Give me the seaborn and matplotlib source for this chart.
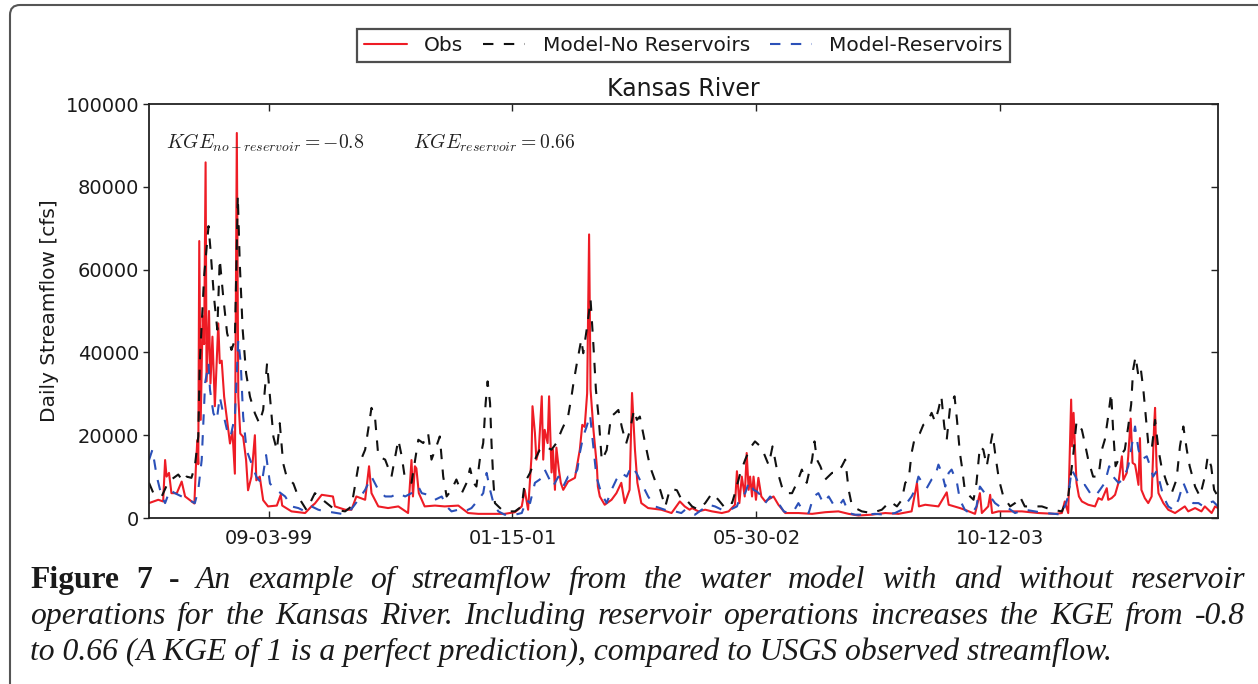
import numpy as np
import pandas as pd
import matplotlib
matplotlib.use("Agg")
import matplotlib.pyplot as plt
import seaborn as sns
from matplotlib.patches import FancyBboxPatch
from matplotlib.transforms import IdentityTransform
from matplotlib.ticker import FuncFormatter

# ---------------- data (days since 1999-01-01, daily streamflow in cfs) ----------------
START = "1999-01-01"
END = "2004-12-31"
tick_labels = ["09-03-99", "01-15-01", "05-30-02", "10-12-03"]
y_ticks = [0, 20000, 40000, 60000, 80000, 100000]
series_names = ["Obs", "Model-No Reservoirs", "Model-Reservoirs"]

obs_day = [0, 19, 29, 33, 36, 41, 46, 57, 67, 74,
           93, 96, 99, 101, 103, 106, 110, 113, 116, 118,
           123, 126, 130, 135, 142, 145, 149, 154, 160, 166,
           171, 176, 180, 183, 187, 193, 199, 203, 210, 217,
           220, 227, 234, 244, 262, 270, 273, 292, 320, 333,
           340, 354, 377, 381, 402, 415, 425, 443, 451, 456,
           470, 490, 511, 531, 538, 541, 545, 548, 553, 565,
           586, 606, 634, 654, 675, 702, 729, 750, 764, 770,
           777, 784, 786, 791, 794, 799, 805, 808, 811, 817,
           820, 825, 828, 832, 835, 840, 844, 849, 859, 873,
           883, 888, 893, 898, 902, 905, 911, 918, 920, 924,
           934, 948, 958, 968, 975, 985, 990, 996, 1001, 1009,
           1023, 1050, 1071, 1088, 1098, 1108, 1113, 1126, 1140, 1154,
           1174, 1188, 1201, 1205, 1210, 1215, 1221, 1225, 1229, 1232,
           1236, 1239, 1244, 1249, 1255, 1263, 1280, 1290, 1304, 1331,
           1359, 1386, 1413, 1434, 1454, 1481, 1509, 1536, 1563, 1574,
           1578, 1591, 1618, 1635, 1639, 1662, 1672, 1693, 1703, 1707,
           1720, 1724, 1728, 1741, 1789, 1823, 1857, 1871, 1877, 1884,
           1890, 1892, 1895, 1898, 1901, 1906, 1912, 1925, 1939, 1946,
           1953, 1963, 1966, 1973, 1980, 1987, 1994, 1997, 2004, 2007,
           2012, 2016, 2021, 2024, 2028, 2031, 2034, 2041, 2048, 2055,
           2060, 2062, 2065, 2069, 2079, 2089, 2103, 2123, 2130, 2144,
           2157, 2164, 2178, 2185, 2191]
obs_cfs = [3600, 4400, 4000, 14000, 10000, 10900, 6000, 6000, 8800, 5200,
           3500, 12000, 18800, 13000, 66900, 23700, 48700, 42000, 85900, 33000,
           50000, 32500, 43800, 27000, 47000, 37400, 38000, 29300, 23700, 18000,
           21000, 10700, 93000, 29300, 20400, 19600, 14000, 6700, 10000, 20000,
           9100, 10000, 4300, 2800, 3000, 5600, 3000, 1600, 1200, 2800,
           3500, 5600, 5200, 2800, 2000, 2000, 5200, 4400, 12500, 6000,
           2800, 2400, 2800, 1200, 14000, 5200, 12500, 12000, 6000, 2800,
           3000, 2800, 3000, 1200, 1000, 1000, 1000, 1400, 2800, 6800,
           2000, 14900, 27000, 20500, 14100, 16500, 29400, 14100, 21300, 18100,
           29400, 11000, 16500, 6800, 17000, 11700, 8500, 6800, 8800, 9700,
           16500, 22500, 22000, 30100, 68500, 31000, 21200, 12400, 7600, 5200,
           3200, 4400, 6000, 8500, 3600, 6800, 30200, 16500, 8500, 3600,
           2400, 2000, 1200, 4000, 2800, 2000, 2400, 1600, 2000, 1600,
           1200, 1600, 3200, 11300, 3600, 10000, 5200, 15700, 6800, 10000,
           5200, 10000, 4400, 9700, 5200, 4000, 5200, 3200, 1200, 1200,
           1000, 1400, 1600, 1000, 600, 800, 1200, 1000, 1600, 8500,
           2800, 3200, 2800, 6200, 3200, 2400, 2000, 1000, 6000, 1200,
           2800, 5600, 1200, 1600, 1600, 1200, 1000, 1200, 4000, 1200,
           28600, 17300, 25400, 16500, 8500, 5200, 4000, 3200, 2800, 4800,
           4400, 7200, 4400, 4800, 5600, 8500, 14900, 9200, 10900, 14900,
           24000, 13300, 12900, 10900, 8000, 19300, 6800, 4800, 3600, 5200,
           22100, 26600, 12500, 6000, 3600, 2000, 1200, 2800, 1600, 2400,
           1600, 2800, 1200, 2800, 2400]

nores_day = [0, 9, 26, 40, 60, 70, 77, 87, 94, 101,
             104, 113, 122, 126, 133, 140, 145, 152, 160, 169,
             176, 182, 186, 192, 199, 207, 217, 226, 234, 242,
             249, 255, 262, 268, 275, 282, 296, 306, 323, 340,
             360, 381, 402, 415, 429, 443, 456, 463, 470, 484,
             497, 511, 518, 524, 538, 552, 562, 572, 579, 589,
             596, 603, 610, 620, 630, 641, 651, 658, 665, 671,
             678, 685, 690, 694, 699, 702, 706, 709, 723, 736,
             750, 764, 770, 781, 791, 801, 811, 825, 835, 846,
             859, 866, 870, 877, 886, 890, 899, 905, 911, 916,
             922, 928, 938, 947, 955, 962, 969, 978, 986, 994,
             1000, 1006, 1017, 1027, 1037, 1048, 1058, 1068, 1082, 1092,
             1102, 1113, 1126, 1140, 1154, 1167, 1178, 1184, 1195, 1201,
             1212, 1222, 1232, 1242, 1253, 1260, 1270, 1278, 1287, 1297,
             1304, 1318, 1328, 1338, 1348, 1359, 1364, 1369, 1376, 1386,
             1400, 1410, 1420, 1427, 1434, 1441, 1461, 1481, 1502, 1519,
             1533, 1543, 1550, 1557, 1563, 1570, 1580, 1587, 1596, 1604,
             1611, 1618, 1624, 1630, 1635, 1642, 1651, 1656, 1662, 1666,
             1672, 1683, 1690, 1696, 1703, 1710, 1717, 1724, 1729, 1735,
             1742, 1751, 1765, 1775, 1785, 1795, 1809, 1830, 1850, 1871,
             1884, 1894, 1901, 1912, 1918, 1925, 1935, 1946, 1953, 1959,
             1966, 1972, 1976, 1981, 1990, 2000, 2007, 2013, 2017, 2022,
             2028, 2033, 2038, 2043, 2048, 2055, 2062, 2069, 2075, 2086,
             2096, 2106, 2113, 2120, 2127, 2133, 2144, 2154, 2164, 2170,
             2177, 2183, 2191]
nores_cfs = [8500, 6000, 5200, 8800, 10500, 8800, 10000, 9700, 12500, 19700,
             37400, 58400, 70500, 64900, 53600, 45500, 62500, 53600, 44700, 40600,
             43000, 77800, 61600, 45500, 35000, 29300, 25300, 22900, 26100, 37400,
             27700, 19600, 16400, 22900, 13200, 10000, 8300, 5100, 1900, 6000,
             4000, 2000, 1600, 2800, 12500, 16500, 26600, 24600, 14900, 14100,
             10000, 18900, 14900, 10000, 8500, 18900, 18100, 20500, 14100, 17300,
             19700, 10000, 5200, 6800, 9300, 6000, 8500, 12000, 8500, 7600,
             14100, 18100, 27800, 33000, 27800, 18100, 8500, 3600, 2000, 1600,
             1600, 2800, 8500, 10900, 14100, 16500, 17300, 16500, 18100, 21300,
             24600, 29400, 32600, 37400, 43100, 39800, 47100, 52800, 41500, 31000,
             23700, 13900, 16400, 24500, 25300, 26100, 22000, 18000, 21300, 26100,
             23700, 24500, 18000, 12400, 9100, 6700, 2700, 7100, 6700, 4300,
             4300, 2800, 2000, 3600, 6000, 4400, 2800, 4000, 3600, 6000,
             10900, 14100, 16900, 18500, 17300, 15700, 12800, 17300, 11700, 7600,
             6000, 6000, 8500, 11700, 8500, 14100, 18500, 14100, 12500, 9300,
             10900, 10900, 12500, 14100, 6800, 2800, 1600, 1200, 2000, 4000,
             2800, 4400, 8500, 9300, 15700, 19700, 20500, 22500, 23300, 25400,
             23300, 26200, 29400, 22100, 18900, 27000, 29400, 23700, 15700, 12500,
             6800, 5200, 4400, 8500, 17300, 16500, 12500, 17300, 20500, 14900,
             9300, 5200, 2800, 3600, 5200, 2800, 2800, 2800, 2000, 1600,
             5200, 14900, 23300, 21300, 18100, 14100, 10000, 10000, 16500, 18900,
             24600, 30200, 21300, 12500, 14900, 16500, 22100, 27400, 35800, 39000,
             34200, 35800, 31000, 24600, 18100, 16500, 23700, 16500, 12500, 8500,
             6000, 9300, 17300, 22100, 16500, 12500, 7600, 5200, 10000, 14900,
             12500, 6800, 5200]

res_day = [0, 7, 16, 26, 33, 43, 53, 67, 81, 94,
           101, 108, 115, 122, 125, 132, 139, 145, 152, 160,
           167, 176, 183, 188, 193, 200, 210, 220, 231, 240,
           248, 262, 279, 292, 306, 320, 333, 347, 360, 374,
           395, 408, 419, 429, 443, 456, 470, 484, 497, 511,
           525, 538, 552, 559, 572, 586, 600, 610, 620, 634,
           647, 661, 675, 685, 692, 699, 706, 716, 729, 750,
           764, 774, 781, 791, 801, 811, 818, 828, 839, 849,
           859, 869, 878, 883, 890, 897, 904, 910, 917, 927,
           938, 948, 958, 968, 979, 989, 999, 1009, 1023, 1037,
           1057, 1078, 1091, 1099, 1119, 1133, 1147, 1160, 1174, 1191,
           1205, 1212, 1222, 1230, 1239, 1246, 1256, 1263, 1273, 1280,
           1290, 1301, 1311, 1321, 1331, 1341, 1352, 1362, 1372, 1382,
           1393, 1403, 1413, 1423, 1434, 1447, 1468, 1488, 1509, 1529,
           1543, 1553, 1563, 1570, 1577, 1585, 1594, 1604, 1611, 1618,
           1625, 1632, 1639, 1645, 1656, 1662, 1672, 1686, 1696, 1703,
           1713, 1724, 1734, 1748, 1761, 1775, 1795, 1816, 1836, 1857,
           1871, 1884, 1891, 1899, 1908, 1918, 1929, 1939, 1949, 1959,
           1968, 1976, 1987, 1997, 2007, 2014, 2021, 2028, 2034, 2045,
           2052, 2058, 2065, 2072, 2079, 2089, 2099, 2110, 2120, 2130,
           2140, 2151, 2161, 2171, 2181, 2191]
res_cfs = [14000, 16500, 10000, 5200, 3600, 6800, 6000, 5200, 4400, 3600,
           6800, 14000, 32600, 37400, 31000, 25300, 23700, 29300, 25300, 21200,
           19600, 24500, 43000, 37400, 24500, 16400, 13200, 10000, 8300, 15200,
           8300, 6700, 5200, 2800, 2400, 1600, 2800, 2000, 1600, 1400,
           1000, 1200, 2800, 4400, 6800, 10000, 6800, 5200, 5200, 6000,
           5200, 6000, 7600, 6000, 5600, 4400, 5200, 2800, 1600, 2000,
           1600, 2400, 4400, 6000, 10900, 6800, 3600, 1600, 800, 800,
           1200, 4400, 3600, 8500, 9300, 11700, 10000, 7600, 10000, 7600,
           10000, 9700, 11700, 15700, 19700, 22100, 24900, 18100, 10000, 6000,
           3600, 6800, 9300, 10900, 10000, 12500, 10900, 8500, 5200, 2800,
           2000, 1600, 1200, 2000, 800, 2000, 3200, 2800, 2000, 2000,
           2800, 5200, 6000, 8800, 6800, 6400, 5200, 3600, 5200, 4400,
           3600, 1600, 1200, 1600, 3600, 1600, 1200, 5200, 6000, 3600,
           5200, 3200, 2800, 4400, 1200, 800, 800, 1000, 800, 1200,
           2000, 3600, 5200, 6800, 10000, 8500, 7200, 9300, 10000, 12900,
           10900, 7600, 10900, 11700, 8500, 4400, 2000, 800, 2800, 7600,
           6000, 5200, 3600, 2400, 2400, 1200, 2000, 1600, 1200, 1000,
           800, 5200, 11700, 10000, 7600, 8000, 6000, 5200, 6800, 8500,
           12500, 10000, 8500, 9300, 12500, 17300, 22100, 16500, 14100, 14900,
           12500, 10000, 11300, 8500, 5200, 2800, 2000, 4400, 8500, 5600,
           3600, 3600, 2800, 3600, 4000, 2800]

kge_labels = [r"$KGE_{no-reservoir}=-0.8$", r"$KGE_{reservoir}=0.66$"]

caption_line1_bold = "Figure 7 -"
caption_line1 = "An example of streamflow from the water model with and without reservoir"
caption_line2 = "operations for the Kansas River. Including reservoir operations increases the KGE from -0.8"
caption_line3 = "to 0.66 (A KGE of 1 is a perfect prediction), compared to USGS observed streamflow."

for d, v in [(obs_day, obs_cfs), (nores_day, nores_cfs), (res_day, res_cfs)]:
    assert len(d) == len(v), (len(d), len(v))

# ---------------- styling ----------------
sns.set_theme(style="white")
plt.rcParams["font.family"] = ["DejaVu Sans"]
plt.rcParams["mathtext.fontset"] = "cm"
plt.rcParams["axes.edgecolor"] = "#222222"

W, H = 1258, 684
fig = plt.figure(figsize=(W / 100, H / 100), dpi=100)
fig.patch.set_facecolor("white")
ax = fig.add_axes([149 / W, 1 - 518 / H, (1218 - 149) / W, (518 - 104) / H])


def make_df(days, vals, name):
    return pd.DataFrame({
        "date": pd.Timestamp(START) + pd.to_timedelta(days, unit="D"),
        "cfs": vals,
        "series": name,
    })


df_obs = make_df(obs_day, obs_cfs, series_names[0])
df_nores = make_df(nores_day, nores_cfs, series_names[1])
df_res = make_df(res_day, res_cfs, series_names[2])

sns.lineplot(data=df_obs, x="date", y="cfs", ax=ax, color="#ee1c25", lw=1.5,
             label=series_names[0], errorbar=None)
sns.lineplot(data=df_nores, x="date", y="cfs", ax=ax, color="#111111", lw=1.5,
             linestyle=(0, (5, 5)), label=series_names[1], errorbar=None)
sns.lineplot(data=df_res, x="date", y="cfs", ax=ax, color="#2b50b8", lw=1.5,
             linestyle=(0, (5, 5)), label=series_names[2], errorbar=None)

ax.set_xlim(pd.Timestamp(START), pd.Timestamp(END))
ax.set_ylim(0, 100000)
ax.set_yticks(y_ticks)
ax.yaxis.set_major_formatter(FuncFormatter(lambda v, p: f"{int(v)}"))
xt = pd.to_datetime(tick_labels, format="%m-%d-%y")
ax.set_xticks(xt)
ax.set_xticklabels(tick_labels)

for s in ax.spines.values():
    s.set_visible(True)
    s.set_linewidth(1.3)
    s.set_color("#222222")

ax.tick_params(axis="x", which="major", direction="in", top=True, bottom=True,
               length=5, width=1, labelsize=14, pad=8, colors="#222222", labelcolor="#1a1a1a")
ax.tick_params(axis="y", which="major", direction="out", left=True, right=False,
               length=4, width=1, labelsize=14, pad=3, colors="#222222", labelcolor="#1a1a1a")
# right-side inward ticks via a twin axis sharing y
axr = ax.twinx()
axr.set_ylim(ax.get_ylim())
axr.set_yticks(y_ticks)
axr.tick_params(axis="y", direction="in", length=5, width=1, labelright=False, right=True,
                colors="#222222")
axr.grid(False)
for s in axr.spines.values():
    s.set_visible(False)

ax.set_xlabel("")
ax.set_ylabel("Daily Streamflow [cfs]", fontsize=14.5, labelpad=5, color="#1a1a1a")
ax.set_title("Kansas River", fontsize=17, pad=6, color="#1a1a1a")
ax.grid(False)

ax.text(0.016, 0.906, kge_labels[0], transform=ax.transAxes, fontsize=14.2, va="center",
        color="#222222")
ax.text(0.247, 0.906, kge_labels[1], transform=ax.transAxes, fontsize=14.2, va="center",
        color="#222222")

leg = ax.legend(loc="center", bbox_to_anchor=(0.5, 1.141), ncol=3, frameon=True,
                fancybox=False, fontsize=14.5, handlelength=2.1, columnspacing=1.0,
                handletextpad=0.85, borderpad=0.35, borderaxespad=0)
leg.get_frame().set_edgecolor("#222222")
leg.get_frame().set_linewidth(1.6)
for t in leg.get_texts():
    t.set_color("#1a1a1a")

# outer rounded frame
frame = FancyBboxPatch((10, -40), 1300, H - 5 + 40,
                       boxstyle="round,pad=0,rounding_size=10",
                       transform=IdentityTransform(), fill=False,
                       edgecolor="#555555", lw=1.5)
fig.add_artist(frame)

# ---------------- caption (Times-like serif, justified) ----------------
cap_font = "Liberation Serif"
fig.canvas.draw()
r = fig.canvas.get_renderer()


def wid(t):
    return t.get_window_extent(r).width


probe = fig.text(0, 0, caption_line3, fontsize=20, family=cap_font, style="italic")
size = 20 * 1083 / wid(probe)
probe.remove()

X0, X1 = 30, 1245
base = [588, 624, 660]


def justify(words, ybase):
    ts = []
    for w, wt, st in words:
        ts.append(fig.text(0, 1 - ybase / H, w, fontsize=size, family=cap_font,
                           weight=wt, style=st, va="baseline", ha="left", color="#1a1a1a"))
    ws = [wid(t) for t in ts]
    gap = (X1 - X0 - sum(ws)) / (len(ts) - 1)
    x = X0
    for t, w in zip(ts, ws):
        t.set_x(x / W)
        x += w + gap


words1 = [(w, "bold", "normal") for w in caption_line1_bold.split()] + \
         [(w, "normal", "italic") for w in caption_line1.split()]
words2 = [(w, "normal", "italic") for w in caption_line2.split()]
justify(words1, base[0])
justify(words2, base[1])
fig.text(X0 / W, 1 - base[2] / H, caption_line3, fontsize=size, family=cap_font,
         style="italic", va="baseline", ha="left", color="#1a1a1a")

fig.savefig("out.png", dpi=100, facecolor="white")
